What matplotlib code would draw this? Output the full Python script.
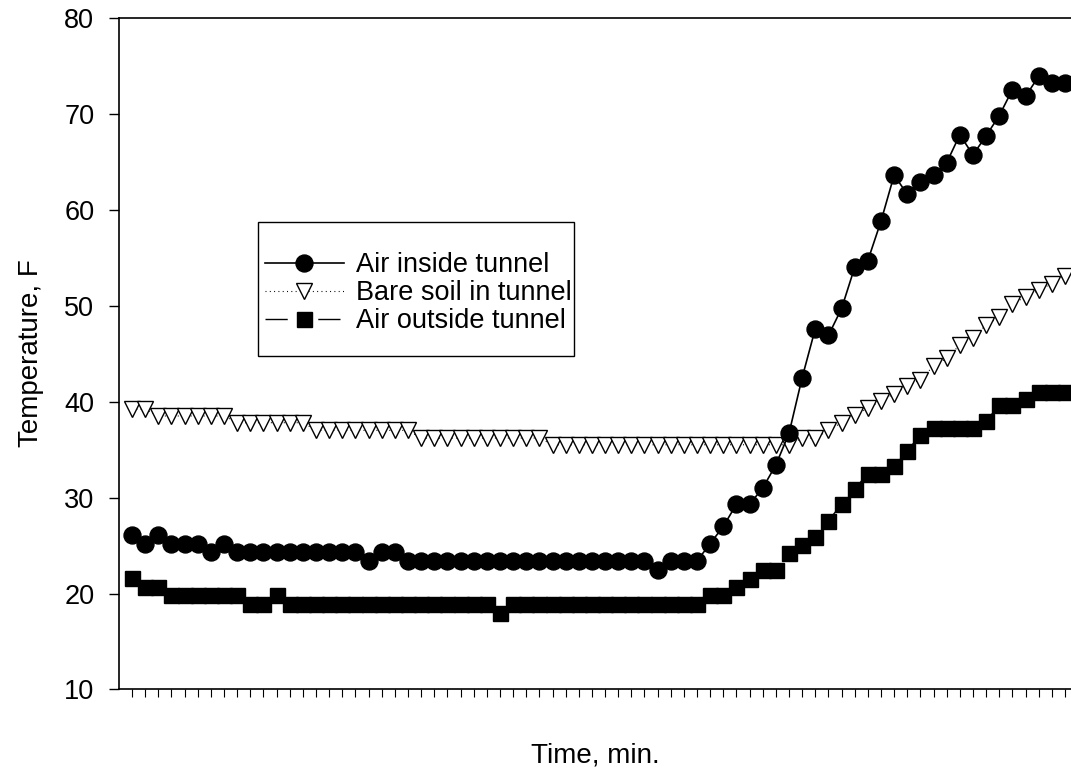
import matplotlib
matplotlib.use("Agg")
import matplotlib.pyplot as plt
from matplotlib.lines import Line2D
from matplotlib.patches import Rectangle

plt.rcParams['font.family'] = ['Liberation Sans', 'DejaVu Sans']
plt.rcParams['lines.scale_dashes'] = False

# readings, one per tick on the time axis
time_idx = list(range(72))

air_inside = [
    26.1, 25.2, 26.1, 25.2, 25.2, 25.2, 24.3, 25.2,
    24.3, 24.3, 24.3, 24.3, 24.3, 24.3, 24.3, 24.3, 24.3, 24.3,
    23.4, 24.3, 24.3,
    23.4, 23.4, 23.4, 23.4, 23.4, 23.4, 23.4, 23.4, 23.4, 23.4,
    23.4, 23.4, 23.4, 23.4, 23.4, 23.4, 23.4, 23.4, 23.4,
    22.5, 23.4, 23.4, 23.4,
    25.2, 27.0, 29.3, 29.3, 31.0, 33.4, 36.7, 42.5, 47.6, 46.9,
    49.7, 54.0, 54.7, 58.8, 63.6, 61.6, 62.9, 63.6, 64.9, 67.8,
    65.7, 67.7, 69.8, 72.5, 71.8, 73.9, 73.2, 73.2,
]

bare_soil = [
    39.2, 39.2,
    38.5, 38.5, 38.5, 38.5, 38.5, 38.5,
    37.8, 37.8, 37.8, 37.8, 37.8, 37.8,
    37.0, 37.0, 37.0, 37.0, 37.0, 37.0, 37.0, 37.0,
    36.2, 36.2, 36.2, 36.2, 36.2, 36.2, 36.2, 36.2, 36.2, 36.2,
    35.5, 35.5, 35.5, 35.5, 35.5, 35.5, 35.5, 35.5, 35.5, 35.5,
    35.5, 35.5, 35.5, 35.5, 35.5, 35.5, 35.5, 35.5, 35.5,
    36.2, 36.2, 37.0, 37.8, 38.6, 39.3, 40.1, 40.8, 41.6, 42.3,
    43.7, 44.5, 45.9, 46.6, 48.0, 48.8, 50.2, 50.9, 51.6, 52.3, 53.1,
]

air_outside = [
    21.6, 20.7, 20.7,
    19.8, 19.8, 19.8, 19.8, 19.8, 19.8,
    18.9, 18.9, 19.8,
    18.9, 18.9, 18.9, 18.9, 18.9, 18.9, 18.9, 18.9,
    18.9, 18.9, 18.9, 18.9, 18.9, 18.9, 18.9, 18.9,
    18.0,
    18.9, 18.9, 18.9, 18.9, 18.9, 18.9, 18.9, 18.9,
    18.9, 18.9, 18.9, 18.9, 18.9, 18.9, 18.9,
    19.8, 19.8, 20.7, 21.5, 22.4, 22.4, 24.2, 25.1, 25.9, 27.6,
    29.3, 30.9, 32.5, 32.5, 33.3, 34.9, 36.5, 37.2, 37.2, 37.2,
    37.2, 38.0, 39.6, 39.6, 40.3, 41.0, 41.0, 41.0,
]

y_ticks = [10, 20, 30, 40, 50, 60, 70, 80]

fig = plt.figure(figsize=(10.71, 7.72), dpi=100)
ax = fig.add_axes([0.1110, 0.10687, 0.8895, 0.8702])

ax.plot(time_idx, air_inside, color='black', linewidth=1.2, linestyle='-',
        marker='o', markersize=12.2, markerfacecolor='black', markeredgecolor='black',
        label='Air inside tunnel', zorder=3)
ax.plot(time_idx, bare_soil, color='black', linewidth=0.8, dashes=(0.7, 2.4),
        marker='v', markersize=11, markerfacecolor='white', markeredgecolor='black',
        markeredgewidth=1.0, label='Bare soil in tunnel', zorder=2)
ax.plot(time_idx, air_outside, color='black', linewidth=1.0, dashes=(16, 22),
        marker='s', markersize=10.8, markerfacecolor='black', markeredgecolor='black',
        label='Air outside tunnel', zorder=2)

ax.set_xlim(-1, 71.5)
ax.set_ylim(10, 80)
ax.set_xticks(time_idx)
ax.set_xticklabels([])
ax.set_yticks(y_ticks)
ax.tick_params(axis='x', direction='out', length=6, width=0.8, color='black')
ax.tick_params(axis='y', direction='out', length=7.2, width=1.0, labelsize=19.5, pad=10.5)

for side in ['left', 'top', 'bottom']:
    ax.spines[side].set_linewidth(1.2)
ax.spines['right'].set_visible(False)

ax.set_ylabel('Temperature, F', fontsize=20, va='center')
ax.yaxis.set_label_coords(-0.0925, 0.5)
ax.set_xlabel('Time, min.', fontsize=20, va='center')
ax.xaxis.set_label_coords(0.5, -0.098)

# legend box drawn by hand, entries without frame
box = Rectangle((0.146, 0.4963), 0.3317, 0.1995, transform=ax.transAxes,
                facecolor='white', edgecolor='black', linewidth=1.0, zorder=4)
ax.add_patch(box)
handles = [
    Line2D([], [], color='black', linewidth=1.2, marker='o', markersize=12.2),
    Line2D([], [], color='black', linewidth=0.8, dashes=(0.7, 2.4), marker='v',
           markersize=11, markerfacecolor='white', markeredgewidth=1.0),
    Line2D([], [], color='black', linewidth=1.0, dashes=(16, 22), marker='s',
           markersize=10.8),
]
labels = ['Air inside tunnel', 'Bare soil in tunnel', 'Air outside tunnel']
leg = ax.legend(handles, labels, loc='upper left', bbox_to_anchor=(0.1535, 0.651),
                frameon=False, fontsize=19.5, handlelength=2.9, handletextpad=0.47,
                labelspacing=0.08, borderaxespad=0, borderpad=0)
leg.set_zorder(5)

fig.savefig('out.png', dpi=100)
